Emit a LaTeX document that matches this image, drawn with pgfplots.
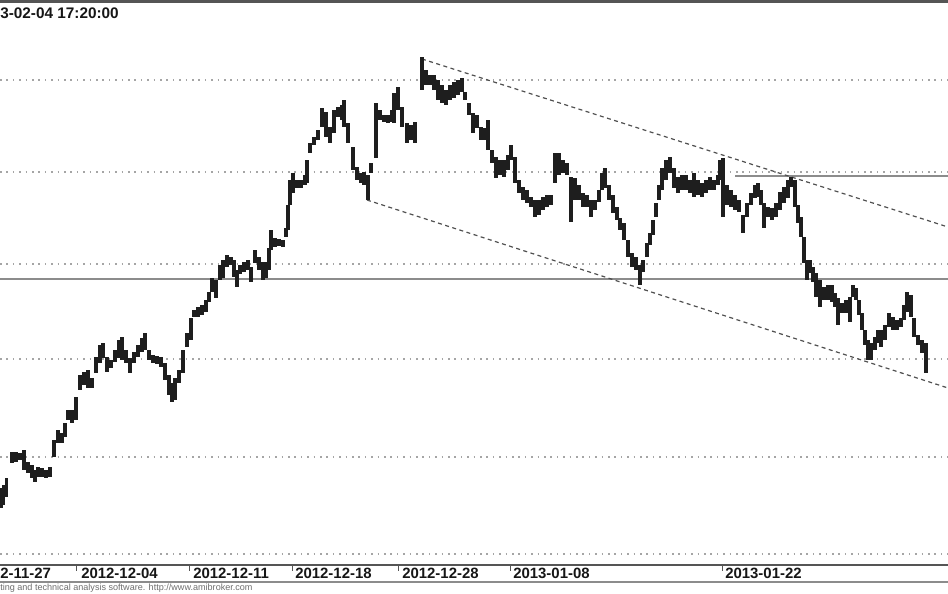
\documentclass[border=0pt]{standalone}
\usepackage{fontspec}
\setmainfont{Liberation Sans}
\usepackage{pgfplots}
\pgfplotsset{compat=1.18}
\usepackage{pgfplotstable}

\definecolor{ink}{RGB}{22,22,22}
\definecolor{barc}{RGB}{30,30,30}
\definecolor{frame}{RGB}{85,85,85}
\definecolor{griddot}{RGB}{165,165,165}
\definecolor{level}{RGB}{140,140,140}
\definecolor{trend}{RGB}{80,80,80}
\definecolor{foot}{RGB}{110,110,110}

% high/low of each bar, in pixel rows (t = top, b = bottom)
\pgfplotstableread{
x t b
1 488 508
3.5 485 505
6.5 478 497
12 452 463
16 452 462
20 453 460
24 450 470
28 462 473
32 465 478
35 470 482
38 467 477
42 468 477
46 470 478
50 467 477
54 440 457
58 430 443
62 433 443
65 423 437
68 410 420
72 410 423
76 397 420
80 375 390
84 372 385
88 370 388
92 378 388
96 357 373
100 345 363
103 343 358
107 357 372
111 360 368
115 350 362
119 340 358
122 337 360
126 350 363
130 358 373
134 352 363
138 345 357
142 338 352
145 333 350
149 350 360
153 355 363
157 356 364
161 357 367
165 363 380
169 375 395
172 383 402
175 378 400
179 370 383
183 350 373
187 333 347
191 318 340
194 310 317
198 307 317
202 305 315
206 300 312
209 292 302
212 278 292
216 280 298
220 265 280
223 260 278
227 255 267
231 257 265
234 260 277
237 270 287
240 265 274
244 262 272
248 260 270
251 267 282
255 250 263
259 257 270
263 262 280
266 262 278
269 248 270
271 230 250
275 238 247
279 239 246
283 240 247
286 228 237
288 205 230
290 180 205
293 173 193
297 180 188
301 180 188
305 175 185
307 160 183
310 143 153
314 137 145
318 130 140
322 108 127
326 112 137
330 127 143
334 110 133
338 107 117
342 105 120
344 100 127
348 123 143
353 147 170
357 167 180
361 173 183
364 172 185
368 175 200
371 163 173
376 103 158
380 110 120
384 115 122
388 115 123
392 110 122
394 93 123
398 87 110
402 107 127
407 123 143
411 125 140
415 122 143
422 57 90
426 70 85
430 75 85
434 75 90
438 80 100
442 85 103
446 90 105
450 85 100
454 82 98
458 80 95
462 78 92
465 92 100
469 103 115
473 113 133
477 115 128
481 127 140
485 128 140
488 120 150
492 150 163
496 157 178
500 160 175
504 160 177
508 155 170
511 145 160
515 157 183
519 180 193
523 187 200
527 190 203
531 197 207
535 200 217
539 200 215
543 197 210
547 195 207
551 195 205
555 153 183
559 153 175
563 160 173
567 163 175
571 177 222
575 178 200
579 185 200
583 193 207
587 195 207
591 200 217
595 200 210
599 190 202
602 173 190
605 168 188
609 185 200
613 195 213
617 207 220
620 218 230
624 223 240
628 240 257
632 253 267
636 257 270
640 265 285
643 260 272
647 243 257
650 233 245
653 220 235
656 203 217
659 185 200
662 168 190
666 160 180
670 157 173
674 168 188
678 177 193
682 175 190
686 175 190
690 180 193
694 173 197
698 180 195
702 183 197
706 180 193
710 177 190
714 180 190
718 175 185
720 160 180
723 158 217
727 185 205
731 190 207
735 195 210
739 200 212
743 215 233
747 203 217
751 193 205
755 185 198
758 183 197
761 190 205
764 203 228
768 207 217
772 208 220
776 203 217
780 192 210
784 187 203
788 180 198
791 177 187
795 180 207
798 205 223
801 217 237
804 237 263
807 260 280
810 260 273
813 267 282
816 273 297
820 280 307
824 287 300
828 285 300
832 285 302
835 293 307
838 298 325
842 303 313
846 300 313
850 297 322
853 285 297
856 288 300
859 300 315
862 313 330
865 330 345
868 340 360
871 343 360
875 337 350
878 330 343
881 330 347
885 325 340
889 313 327
893 317 330
897 320 330
901 318 327
904 305 320
907 292 312
911 295 317
914 318 337
918 335 345
922 340 353
926 343 373
}\bars

\begin{document}
\begin{tikzpicture}
\begin{axis}[
  width=711pt, height=444.75pt, scale only axis,
  xmin=0, xmax=948, ymin=0, ymax=593, y dir=reverse,
  hide axis, clip=false,
]
% dotted price grid
\pgfplotsinvokeforeach{80,172,264,359,457,554}{
  \addplot[griddot, line width=0.9pt, dash pattern=on 1.2pt off 3.6pt]
    coordinates {(0,#1) (948,#1)};
}
% support / resistance levels
\addplot[level, line width=1.6pt] coordinates {(0,279) (948,279)};
\addplot[level, line width=1.6pt] coordinates {(735,176) (948,176)};
% falling channel
\addplot[trend, line width=0.9pt, dash pattern=on 3pt off 2.6pt]
  coordinates {(422,59) (948,227)};
\addplot[trend, line width=0.9pt, dash pattern=on 3pt off 2.6pt]
  coordinates {(367,200) (948,388)};
% price bars
\addplot[draw=none, error bars/.cd, y dir=both, y explicit, error mark=none,
  error bar style={draw=barc, line width=2.4pt, solid, line cap=butt}]
  table[x=x, y expr={(\thisrow{t}+\thisrow{b})/2},
    y error expr={(\thisrow{b}-\thisrow{t})/2}] {\bars};
% frame
\addplot[frame, line width=2.2pt] coordinates {(0,1.5) (948,1.5)};
\addplot[frame, line width=1.5pt] coordinates {(0,565) (948,565)};
\addplot[level, line width=1.5pt] coordinates {(0,582) (948,582)};
\addplot[frame, line width=0.6pt, unbounded coords=jump] coordinates {
  (76,565) (76,571) (76,nan)
  (189,565) (189,571) (189,nan)
  (292,565) (292,571) (292,nan)
  (398,565) (398,571) (398,nan)
  (510,565) (510,571) (510,nan)
  (722,565) (722,571)};
% text
\node[anchor=west, inner sep=0pt, font=\bfseries\fontsize{11.5}{13}\selectfont, text=ink]
  at (axis cs:0,13) {3-02-04 17:20:00};
\begin{scope}[every node/.append style={anchor=west, inner sep=0pt,
    font=\bfseries\fontsize{11.2}{13}\selectfont, text=ink}]
  \node at (axis cs:0,573.5) {2-11-27};
  \node at (axis cs:81,573.5) {2012-12-04};
  \node at (axis cs:193,573.5) {2012-12-11};
  \node at (axis cs:295,573.5) {2012-12-18};
  \node at (axis cs:402,573.5) {2012-12-28};
  \node at (axis cs:513,573.5) {2013-01-08};
  \node at (axis cs:725,573.5) {2013-01-22};
\end{scope}
\node[anchor=west, inner sep=0pt, font=\fontsize{6.8}{7}\selectfont, text=foot]
  at (axis cs:0,588.5) {ting and technical analysis software. http://www.amibroker.com};
\end{axis}
\pgfresetboundingbox
\useasboundingbox (current axis.south west) rectangle (current axis.north east);
\end{tikzpicture}
\end{document}
